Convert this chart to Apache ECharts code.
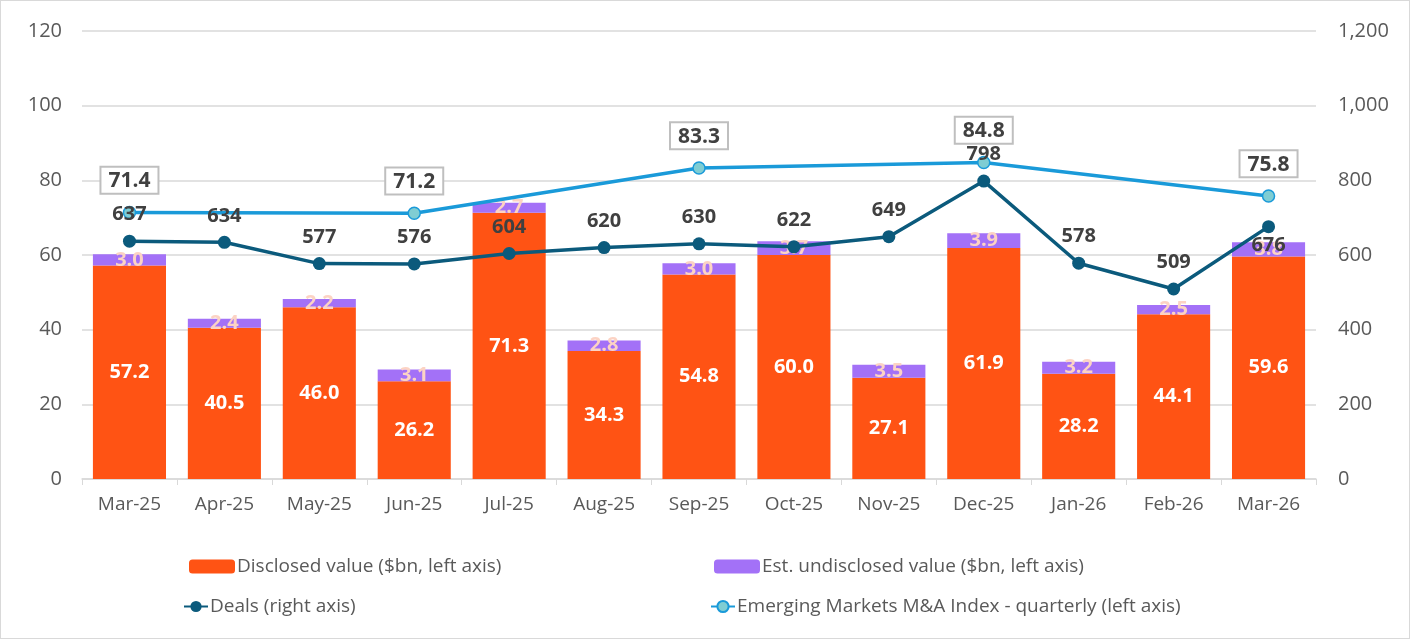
<!DOCTYPE html>
<html>
<head>
<meta charset="utf-8">
<script src="https://cdn.jsdelivr.net/npm/echarts@6/dist/echarts.min.js"></script>
<style>
  html, body { margin: 0; padding: 0; background: #fff; }
  #chart { width: 1408px; height: 637px; border: 1px solid #d9d9d9; }
</style>
</head>
<body>
<div id="chart"></div>
<script>
var months = ['Mar-25', 'Apr-25', 'May-25', 'Jun-25', 'Jul-25', 'Aug-25', 'Sep-25',
              'Oct-25', 'Nov-25', 'Dec-25', 'Jan-26', 'Feb-26', 'Mar-26'];
var disclosed = [57.2, 40.5, 46.0, 26.2, 71.3, 34.3, 54.8, 60.0, 27.1, 61.9, 28.2, 44.1, 59.6];
var undisclosed = [3.0, 2.4, 2.2, 3.1, 2.7, 2.8, 3.0, 3.7, 3.5, 3.9, 3.2, 2.5, 3.8];
var deals = [637, 634, 577, 576, 604, 620, 630, 622, 649, 798, 578, 509, 676];
var indexQuarterly = [71.4, null, null, 71.2, null, null, 83.3, null, null, 84.8, null, null, 75.8];

var leftTicks = [0, 20, 40, 60, 80, 100, 120];
var rightTicks = [0, 200, 400, 600, 800, 1000, 1200];

var font = '"Open Sans", "Noto Sans", sans-serif';
var chart = echarts.init(document.getElementById('chart'));

function legendItem(name, left, top, isLine) {
  return {
    data: [name],
    left: left,
    top: top,
    padding: 0,
    itemWidth: isLine ? 24 : 46,
    itemHeight: 14,
    itemGap: 4,
    textStyle: { fontFamily: font, fontSize: 19, color: '#595959', padding: [0, 0, 0, -3] },
    selectedMode: false
  };
}

// last deals label sits under its point, as in the source chart
var dealsData = deals.map(function (v, i) {
  if (i === deals.length - 1) {
    return { value: v, label: { position: 'bottom', distance: 2 } };
  }
  return v;
});

var option = {
  animation: false,
  grid: { left: 81, right: 93, top: 30, bottom: 159 },
  legend: [
    legendItem('Disclosed value ($bn, left axis)', 188, 556),
    legendItem('Est. undisclosed value ($bn, left axis)', 713, 556),
    legendItem('Deals (right axis)', 182, 596, true),
    legendItem('Emerging Markets M&A Index - quarterly (left axis)', 709, 596, true)
  ],
  xAxis: {
    type: 'category',
    data: months,
    axisLine: { lineStyle: { color: '#d9d9d9', width: 1.5 } },
    axisTick: { show: true, length: 6, lineStyle: { color: '#d9d9d9' } },
    axisLabel: { fontFamily: font, fontSize: 19, color: '#595959', margin: 16 }
  },
  yAxis: [
    {
      type: 'value', min: leftTicks[0], max: leftTicks[leftTicks.length - 1], interval: 20,
      axisLine: { show: false }, axisTick: { show: false },
      splitLine: { lineStyle: { color: '#d9d9d9', width: 1.5 } },
      axisLabel: { fontFamily: font, fontSize: 20, color: '#595959', margin: 20 }
    },
    {
      type: 'value', min: rightTicks[0], max: rightTicks[rightTicks.length - 1], interval: 200,
      axisLine: { show: false }, axisTick: { show: false },
      splitLine: { show: false },
      axisLabel: {
        fontFamily: font, fontSize: 20, color: '#595959', margin: 22,
        formatter: function (v) { return v.toLocaleString('en-US'); }
      }
    }
  ],
  series: [
    {
      name: 'Disclosed value ($bn, left axis)',
      type: 'bar', stack: 'v', barCategoryGap: '23%',
      data: disclosed,
      itemStyle: { color: '#FF5314' },
      label: {
        show: true, position: 'inside', fontFamily: font, fontSize: 20, fontWeight: 'bold',
        color: '#ffffff', formatter: function (p) { return p.value.toFixed(1); }
      }
    },
    {
      name: 'Est. undisclosed value ($bn, left axis)',
      type: 'bar', stack: 'v',
      data: undisclosed,
      itemStyle: { color: '#A371F7' },
      label: {
        show: true, position: 'inside', fontFamily: font, fontSize: 20, fontWeight: 'bold',
        color: '#FCD3C4', formatter: function (p) { return p.value.toFixed(1); }
      }
    },
    {
      name: 'Deals (right axis)',
      type: 'line', yAxisIndex: 1,
      data: dealsData,
      symbol: 'circle', symbolSize: 13,
      lineStyle: { color: '#0B5A7C', width: 3.5 },
      itemStyle: { color: '#0B5A7C' },
      z: 4,
      label: {
        show: true, position: 'top', distance: 10, fontFamily: font, fontSize: 20,
        fontWeight: 'bold', color: '#404040'
      }
    },
    {
      name: 'Emerging Markets M&A Index - quarterly (left axis)',
      type: 'line', yAxisIndex: 0,
      data: indexQuarterly, connectNulls: true,
      symbol: 'circle', symbolSize: 12,
      lineStyle: { color: '#1A9AD9', width: 3.5 },
      itemStyle: { color: '#7FCDD3', borderColor: '#1A9AD9', borderWidth: 1.5 },
      z: 3,
      label: {
        show: true, position: 'top', distance: 13, fontFamily: font, fontSize: 21,
        fontWeight: 'bold', color: '#404040', backgroundColor: '#ffffff',
        borderColor: '#bfbfbf', borderWidth: 2, padding: [3, 7, 1, 7]
      }
    }
  ]
};

chart.setOption(option);
</script>
</body>
</html>
